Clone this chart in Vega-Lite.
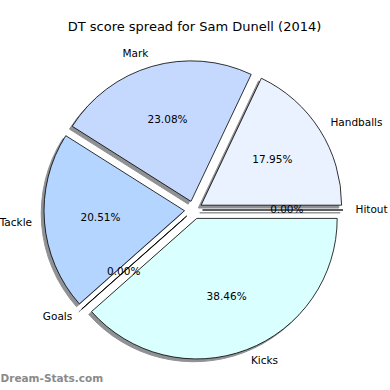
{
  "$schema": "https://vega.github.io/schema/vega-lite/v6.json",
  "width": 387,
  "height": 360,
  "autosize": {"type": "none"},
  "padding": {"left": 0, "top": 30, "right": 3, "bottom": 0},
  "background": "white",
  "title": {"text": "DT score spread for Sam Dunell (2014)", "font": "DejaVu Sans", "fontSize": 13, "fontWeight": "normal", "color": "#000000", "anchor": "middle", "baseline": "alphabetic", "offset": 1, "dx": 1, "dy": 15},
  "config": {"view": {"stroke": null}, "text": {"font": "DejaVu Sans"}},
  "data": {"values": [
    {"label": "Hitout", "share": 0, "i": 0},
    {"label": "Kicks", "share": 0.3846, "i": 1},
    {"label": "Goals", "share": 0, "i": 2},
    {"label": "Tackle", "share": 0.2051, "i": 3},
    {"label": "Mark", "share": 0.2308, "i": 4},
    {"label": "Handballs", "share": 0.1795, "i": 5}
  ]},
  "transform": [
    {"window": [{"op": "sum", "field": "share", "as": "cum"}], "sort": [{"field": "i"}], "frame": [null, 0]},
    {"joinaggregate": [{"op": "sum", "field": "share", "as": "total"}]},
    {"calculate": "(datum.cum - datum.share) / datum.total", "as": "a0"},
    {"calculate": "datum.cum / datum.total", "as": "a1"},
    {"calculate": "(datum.a0 + datum.a1) / 2", "as": "am"},
    {"calculate": "PI / 2 + 2 * PI * datum.am", "as": "rad"}
  ],
  "layer": [
    {
      "mark": {"type": "rule", "opacity": 0},
      "encoding": {
        "x": {"datum": 0, "type": "quantitative", "axis": {"title": "Dream-Stats.com", "titleX": 0, "titleY": -9, "titleAlign": "left", "titleBaseline": "alphabetic", "titleFont": "DejaVu Sans", "titleFontSize": 10.5, "titleFontWeight": "bold", "titleColor": "#8a8a8a", "labels": false, "ticks": false, "domain": false, "grid": false}}
      }
    },
    {
      "mark": {"type": "arc", "outerRadius": 140.5, "fill": "#8f9194", "stroke": "#8f9194", "strokeWidth": 1,
        "xOffset": {"expr": "9 * sin(datum.rad) - 2.8"},
        "yOffset": {"expr": "-9 * cos(datum.rad) + 2.8"}},
      "encoding": {
        "theta": {"field": "a0", "type": "quantitative", "stack": null, "scale": {"domain": [0, 1], "range": [1.5707963, 7.8539816]}},
        "theta2": {"field": "a1"}
      }
    },
    {
      "mark": {"type": "arc", "outerRadius": 140.5, "stroke": "#000000", "strokeWidth": 0.8,
        "xOffset": {"expr": "9 * sin(datum.rad)"},
        "yOffset": {"expr": "-9 * cos(datum.rad)"}},
      "encoding": {
        "theta": {"field": "a0", "type": "quantitative", "stack": null, "scale": {"domain": [0, 1], "range": [1.5707963, 7.8539816]}},
        "theta2": {"field": "a1"},
        "color": {"field": "label", "type": "nominal", "legend": null,
          "scale": {"domain": ["Handballs", "Mark", "Tackle", "Goals", "Kicks", "Hitout"], "range": ["#ebf2ff", "#c5d9ff", "#b4d5ff", "#c8e6ff", "#d9ffff", "#e6e6ff"]}}
      }
    },
    {
      "mark": {"type": "text", "radius": 153, "fontSize": 10.5, "color": "#000000", "baseline": "middle",
        "align": {"expr": "sin(datum.rad) > 0 ? 'left' : 'right'"},
        "xOffset": {"expr": "9 * sin(datum.rad)"},
        "yOffset": {"expr": "-9 * cos(datum.rad)"}},
      "encoding": {
        "theta": {"field": "am", "type": "quantitative", "stack": null, "scale": {"domain": [0, 1], "range": [1.5707963, 7.8539816]}},
        "text": {"field": "label", "type": "nominal"}
      }
    },
    {
      "mark": {"type": "text", "radius": 84.3, "fontSize": 10.5, "color": "#000000", "baseline": "middle", "align": "center",
        "xOffset": {"expr": "9 * sin(datum.rad)"},
        "yOffset": {"expr": "-9 * cos(datum.rad)"}},
      "encoding": {
        "theta": {"field": "am", "type": "quantitative", "stack": null, "scale": {"domain": [0, 1], "range": [1.5707963, 7.8539816]}},
        "text": {"field": "share", "type": "quantitative", "format": ".2%"}
      }
    }
  ]
}
